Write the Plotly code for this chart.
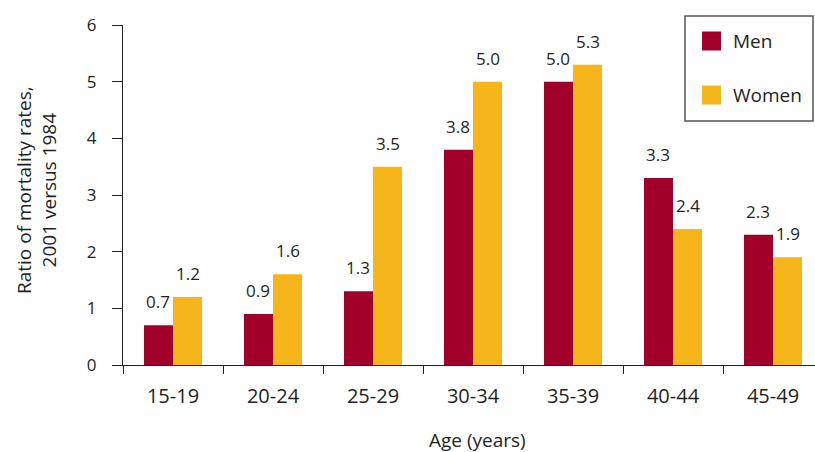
import plotly.graph_objects as go

categories = ["15-19", "20-24", "25-29", "30-34", "35-39", "40-44", "45-49"]
men = [0.7, 0.9, 1.3, 3.8, 5.0, 3.3, 2.3]
women = [1.2, 1.6, 3.5, 5.0, 5.3, 2.4, 1.9]
y_ticks = [0, 1, 2, 3, 4, 5, 6]
series_names = ["Men", "Women"]

MEN_COLOR = "#A1002B"
WOMEN_COLOR = "#F6B51B"
TEXT = "#231F20"
FONT = "Open Sans"

W, H = 815, 452
L, R, T, B = 123, 0, 25, 87
PW = W - L - R
PH = H - T - B


def px_x(px):
    return (px - L) / PW


def px_y(py):
    return (H - B - py) / PH


fig = go.Figure()
fig.add_trace(go.Bar(x=categories, y=men, name=series_names[0],
                     marker=dict(color=MEN_COLOR, line=dict(width=0))))
fig.add_trace(go.Bar(x=categories, y=women, name=series_names[1],
                     marker=dict(color=WOMEN_COLOR, line=dict(width=0))))

annotations = []
for c, m, w in zip(categories, men, women):
    annotations.append(dict(x=c, y=m, xref="x", yref="y", text=f"{m:.1f}",
                            showarrow=False, xshift=-15, yshift=10, yanchor="bottom",
                            font=dict(family=FONT, size=17, color=TEXT)))
    annotations.append(dict(x=c, y=w, xref="x", yref="y", text=f"{w:.1f}",
                            showarrow=False, xshift=15, yshift=10, yanchor="bottom",
                            font=dict(family=FONT, size=17, color=TEXT)))

# axis titles
annotations.append(dict(x=px_x(478), y=px_y(440), xref="paper", yref="paper",
                        text="Age (years)", showarrow=False, xanchor="center", yanchor="middle",
                        font=dict(family=FONT, size=19, color=TEXT)))
annotations.append(dict(x=px_x(36), y=px_y(190), xref="paper", yref="paper",
                        text="Ratio of mortality rates,<br>2001 versus 1984", showarrow=False,
                        textangle=-90, xanchor="center", yanchor="middle",
                        font=dict(family=FONT, size=19, color=TEXT)))

# legend (manual)
shapes = [
    dict(type="rect", xref="paper", yref="paper", x0=px_x(685), x1=px_x(813),
         y0=px_y(121), y1=px_y(16), line=dict(color="#555555", width=1.5),
         fillcolor="white", layer="above"),
]
legend_colors = [MEN_COLOR, WOMEN_COLOR]
legend_y = [41, 95]
for name, col, cy in zip(series_names, legend_colors, legend_y):
    shapes.append(dict(type="rect", xref="paper", yref="paper", x0=px_x(702), x1=px_x(721),
                       y0=px_y(cy + 9.5), y1=px_y(cy - 9.5), line=dict(width=0),
                       fillcolor=col, layer="above"))
    annotations.append(dict(x=px_x(731), y=px_y(cy), xref="paper", yref="paper",
                            text=name, showarrow=False, xanchor="left", yanchor="middle",
                            font=dict(family=FONT, size=19, color=TEXT)))

fig.update_layout(
    width=W, height=H,
    margin=dict(l=L, r=R, t=T, b=B, pad=0),
    paper_bgcolor="white", plot_bgcolor="white",
    barmode="group", bargap=0.42, bargroupgap=0,
    showlegend=False,
    font=dict(family=FONT, color=TEXT),
    annotations=annotations,
    shapes=shapes,
)
fig.update_xaxes(
    range=[-0.5, -0.5 + PW / 100.0],
    showline=True, linecolor=TEXT, linewidth=1.3,
    ticks="outside", tickson="boundaries", ticklen=8, tickwidth=1.3, tickcolor=TEXT,
    ticklabelstandoff=13,
    tickfont=dict(family=FONT, size=20, color=TEXT),
    showgrid=False, zeroline=False,
)
fig.update_yaxes(
    range=[0, 6], tickvals=y_ticks,
    showline=True, linecolor=TEXT, linewidth=1.3,
    ticks="outside", ticklen=10, tickwidth=1.3, tickcolor=TEXT,
    ticklabelstandoff=12,
    tickfont=dict(family=FONT, size=17, color=TEXT),
    showgrid=False, zeroline=False,
)

fig.write_html(
    "out.html",
    config={"displayModeBar": False},
    post_script="document.body.style.margin='0';document.body.style.overflow='hidden';",
)
